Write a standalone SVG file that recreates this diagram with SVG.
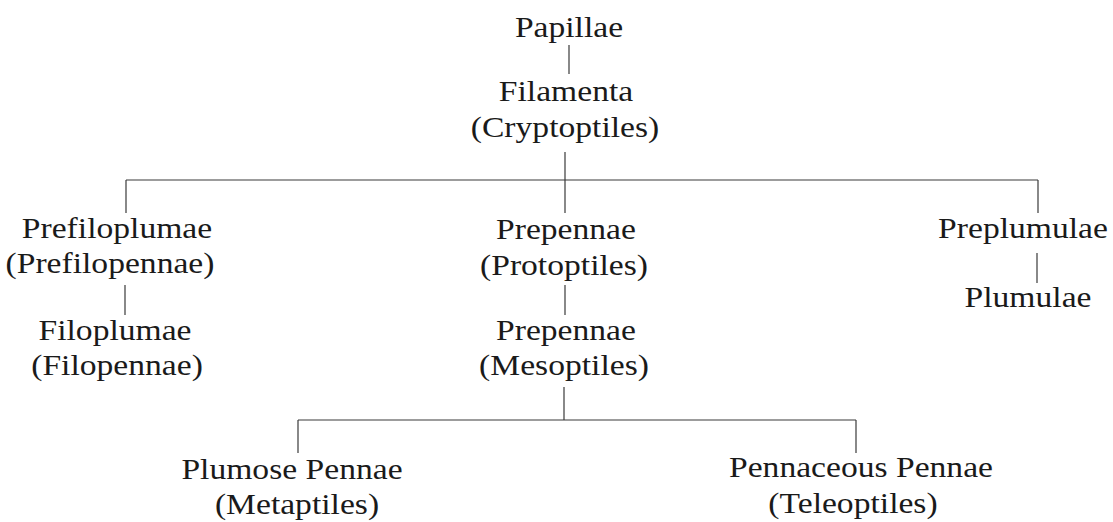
<svg xmlns="http://www.w3.org/2000/svg" width="1113" height="522" viewBox="0 0 1113 522">
<style>
  .ln { stroke: #3a3a3a; stroke-width: 1.2; fill: none; }
</style>
<rect width="1113" height="522" fill="#ffffff"/>
<g id="connectors">
  <line class="ln" x1="569" y1="45" x2="569" y2="74"/>
  <line class="ln" x1="565" y1="152" x2="565" y2="180"/>
  <line class="ln" x1="126" y1="180" x2="1038" y2="180"/>
  <line class="ln" x1="126" y1="180" x2="126" y2="213"/>
  <line class="ln" x1="565" y1="180" x2="565" y2="213"/>
  <line class="ln" x1="1038" y1="180" x2="1038" y2="213"/>
  <line class="ln" x1="125" y1="285" x2="125" y2="315"/>
  <line class="ln" x1="565" y1="285" x2="565" y2="315"/>
  <line class="ln" x1="1037" y1="253" x2="1037" y2="283"/>
  <line class="ln" x1="564" y1="387" x2="564" y2="420"/>
  <line class="ln" x1="298" y1="420" x2="856" y2="420"/>
  <line class="ln" x1="298" y1="420" x2="298" y2="453"/>
  <line class="ln" x1="856" y1="420" x2="856" y2="453"/>
</g>
<g id="nodes" font-family="Liberation Serif, Times New Roman, serif" font-size="30" fill="#1a1a1a" text-anchor="middle">
<g id="papillae"><text transform="translate(569 37) scale(1.12 1)">Papillae</text></g>
<g id="filamenta">
  <text transform="translate(566 101) scale(1.12 1)">Filamenta</text>
  <text transform="translate(565 137) scale(1.12 1)">(Cryptoptiles)</text>
</g>
<g id="prefiloplumae">
  <text transform="translate(117 238) scale(1.12 1)">Prefiloplumae</text>
  <text transform="translate(110 273) scale(1.12 1)">(Prefilopennae)</text>
</g>
<g id="filoplumae">
  <text transform="translate(115 340) scale(1.12 1)">Filoplumae</text>
  <text transform="translate(117 375) scale(1.12 1)">(Filopennae)</text>
</g>
<g id="prepennae-protoptiles">
  <text transform="translate(566 239) scale(1.12 1)">Prepennae</text>
  <text transform="translate(564 275) scale(1.12 1)">(Protoptiles)</text>
</g>
<g id="prepennae-mesoptiles">
  <text transform="translate(566 340) scale(1.12 1)">Prepennae</text>
  <text transform="translate(564 375) scale(1.12 1)">(Mesoptiles)</text>
</g>
<g id="preplumulae"><text transform="translate(1023 238) scale(1.12 1)">Preplumulae</text></g>
<g id="plumulae"><text transform="translate(1028 307) scale(1.12 1)">Plumulae</text></g>
<g id="plumose-pennae">
  <text transform="translate(292 479) scale(1.12 1)">Plumose Pennae</text>
  <text transform="translate(297 514) scale(1.12 1)">(Metaptiles)</text>
</g>
<g id="pennaceous-pennae">
  <text transform="translate(861 477) scale(1.12 1)">Pennaceous Pennae</text>
  <text transform="translate(853 513) scale(1.12 1)">(Teleoptiles)</text>
</g>
</g>
</svg>
